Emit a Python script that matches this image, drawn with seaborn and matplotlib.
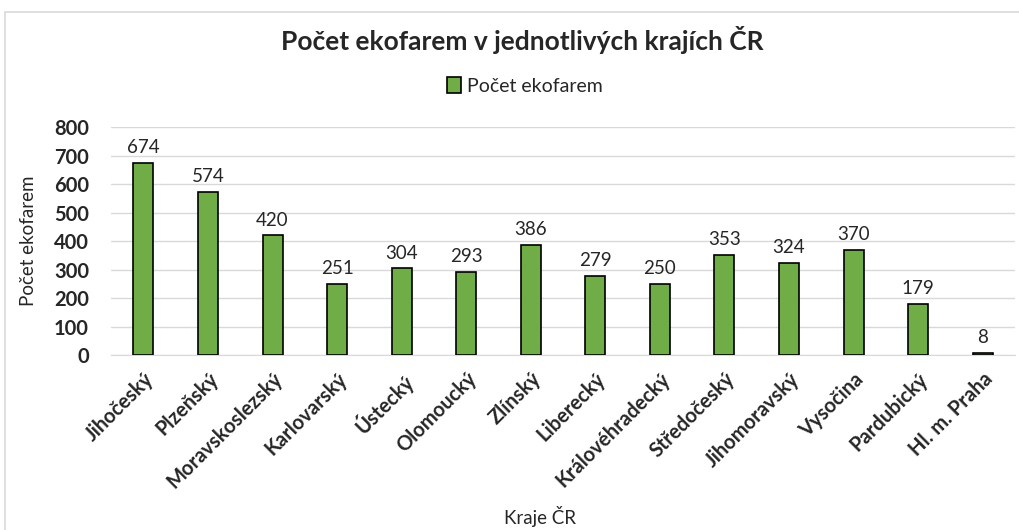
import pandas as pd
import matplotlib.pyplot as plt
import seaborn as sns
from matplotlib.patches import Rectangle

kraje = ['Jihočeský', 'Plzeňský', 'Moravskoslezský', 'Karlovarský', 'Ústecký',
         'Olomoucký', 'Zlínský', 'Liberecký', 'Královéhradecký', 'Středočeský',
         'Jihomoravský', 'Vysočina', 'Pardubický', 'Hl. m. Praha']
pocet = [674, 574, 420, 251, 304, 293, 386, 279, 250, 353, 324, 370, 179, 8]
yticks = [0, 100, 200, 300, 400, 500, 600, 700, 800]

df = pd.DataFrame({'Kraje ČR': kraje, 'Počet ekofarem': pocet})

sns.set_style('white')
plt.rcParams['font.family'] = ['Lato', 'DejaVu Sans']

fig = plt.figure(figsize=(10.2, 5.3), dpi=100)
fig.patches.append(Rectangle((0.005, -0.01), 1.1, 0.988, transform=fig.transFigure,
                             fill=False, edgecolor='#d9d9d9', linewidth=1.2))
ax = fig.add_axes([0.109, 0.330, 0.886, 0.430])

sns.barplot(data=df, x='Kraje ČR', y='Počet ekofarem', color='#70AD47',
            edgecolor='black', linewidth=1.2, width=0.31, saturation=1,
            label='Počet ekofarem', ax=ax, zorder=3)

ax.set_ylim(0, 800)
ax.set_yticks(yticks)
ax.set_yticklabels([str(v) for v in yticks], fontsize=14.5, fontweight='bold')
ax.yaxis.grid(True, color='#d9d9d9', linewidth=1, zorder=0)
ax.set_xlim(-0.5, len(kraje) - 0.5)
for s in ['top', 'right', 'left']:
    ax.spines[s].set_visible(False)
ax.spines['bottom'].set_color('#d9d9d9')
ax.tick_params(axis='y', length=0, pad=16)
ax.tick_params(axis='x', length=0, pad=10)
ax.set_xticks(range(len(kraje)))
ax.set_xticklabels(kraje, rotation=45, ha='right', rotation_mode='anchor',
                   fontsize=14.5, fontweight='bold')

for i, v in enumerate(pocet):
    ax.text(i, v + 24, str(v), ha='center', va='bottom', fontsize=13.5)

ax.set_ylabel('Počet ekofarem', fontsize=13.5)
ax.set_xlabel('Kraje ČR', fontsize=13.5)
ax.xaxis.set_label_coords(0.475, -0.66)
ax.yaxis.set_label_coords(-0.082, 0.5)

fig.text(0.512, 0.925, 'Počet ekofarem v jednotlivých krajích ČR', ha='center',
         va='center', fontsize=19, fontweight='bold')
ax.legend(loc='center', bbox_to_anchor=(0.458, 1.18), frameon=False, fontsize=14,
          handlelength=0.7, handleheight=0.9, handletextpad=0.3)

fig.savefig('out.png', dpi=100)
